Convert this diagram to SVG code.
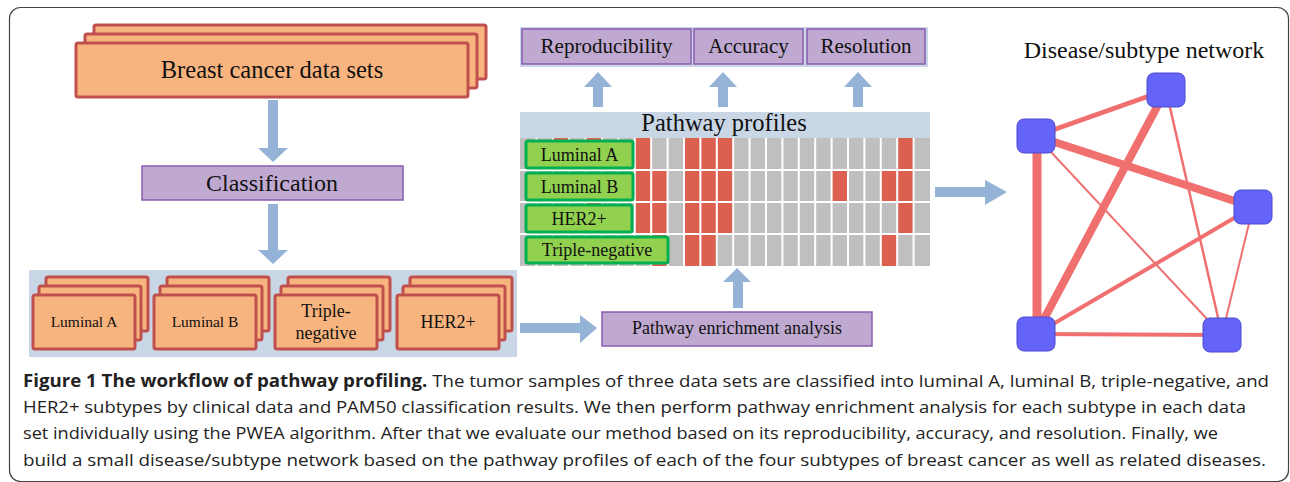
<svg xmlns="http://www.w3.org/2000/svg" width="1290" height="482" viewBox="0 0 1290 482">
<style>
.serif{font-family:"Liberation Serif","Times New Roman",serif;fill:#111;}
.stack{fill:#F8B47E;stroke:#C0504D;stroke-width:3;}
.purple{fill:#BFA9D0;stroke:#8A5CB0;stroke-width:1.5;}
.band{fill:#C9D6E6;}
.arrow{fill:#95B3D7;}
.green{fill:#92D050;stroke:#00B050;stroke-width:3;}
.gray{fill:#BFBFBF;}
.red{fill:#DB6050;}
.sep{stroke:#FFFFFF;stroke-width:2;fill:none;}
.edge{stroke:#F07070;fill:none;stroke-linecap:butt;}
.node{fill:#6464FA;stroke:#4A4ACC;stroke-width:1;}
.cap{font-family:"Open Sans","Liberation Sans",sans-serif;font-size:17px;fill:#222;}
</style>
<rect x="0" y="0" width="1290" height="482" fill="#FFFFFF"/>
<rect x="9.5" y="7.5" width="1279" height="474" rx="11" fill="none" stroke="#444" stroke-width="1.2"/>

<g id="breast-cancer-data-sets">
<rect class="stack" x="94" y="25" width="392" height="54" rx="2"/>
<rect class="stack" x="85" y="34" width="392" height="54" rx="2"/>
<rect class="stack" x="76" y="43" width="392" height="54" rx="2"/>
<text class="serif" x="272" y="78" font-size="24.5" text-anchor="middle">Breast cancer data sets</text>
</g>

<g id="classification">
<rect class="purple" x="142" y="166" width="261" height="34"/>
<text class="serif" x="272" y="191" font-size="24" text-anchor="middle">Classification</text>
</g>

<g id="subtypes">
<rect class="band" x="29" y="270" width="488" height="87"/>
<g id="subtype-luminal-a">
<rect class="stack" x="46" y="277" width="102" height="54" rx="2"/>
<rect class="stack" x="39" y="286" width="102" height="54" rx="2"/>
<rect class="stack" x="33" y="295" width="102" height="54" rx="2"/>
<text class="serif" x="84" y="327" font-size="15.5" text-anchor="middle">Luminal A</text>
</g>
<g id="subtype-luminal-b">
<rect class="stack" x="167" y="277" width="102" height="54" rx="2"/>
<rect class="stack" x="160" y="286" width="102" height="54" rx="2"/>
<rect class="stack" x="154" y="295" width="102" height="54" rx="2"/>
<text class="serif" x="205" y="327" font-size="15.5" text-anchor="middle">Luminal B</text>
</g>
<g id="subtype-triple-negative">
<rect class="stack" x="288" y="277" width="102" height="54" rx="2"/>
<rect class="stack" x="281" y="286" width="102" height="54" rx="2"/>
<rect class="stack" x="275" y="295" width="102" height="54" rx="2"/>
<text class="serif" x="326" y="317" font-size="18" text-anchor="middle">Triple-</text>
<text class="serif" x="326" y="339" font-size="18" text-anchor="middle">negative</text>
</g>
<g id="subtype-her2">
<rect class="stack" x="410" y="277" width="102" height="54" rx="2"/>
<rect class="stack" x="403" y="286" width="102" height="54" rx="2"/>
<rect class="stack" x="397" y="295" width="102" height="54" rx="2"/>
<text class="serif" x="448" y="328" font-size="18" text-anchor="middle">HER2+</text>
</g>
</g>

<g id="pathway-enrichment-analysis">
<rect class="purple" x="602" y="312" width="270" height="34"/>
<text class="serif" x="737" y="334" font-size="18" text-anchor="middle">Pathway enrichment analysis</text>
</g>

<g id="metrics">
<rect class="band" x="520" y="27" width="408" height="40"/>
<g id="reproducibility">
<rect class="purple" x="522" y="29" width="169" height="35"/>
<text class="serif" x="606.5" y="53" font-size="21" text-anchor="middle">Reproducibility</text>
</g>
<g id="accuracy">
<rect class="purple" x="694" y="29" width="109" height="35"/>
<text class="serif" x="748.5" y="53" font-size="21" text-anchor="middle">Accuracy</text>
</g>
<g id="resolution">
<rect class="purple" x="807" y="29" width="118" height="35"/>
<text class="serif" x="866" y="53" font-size="21" text-anchor="middle">Resolution</text>
</g>
</g>

<g id="pathway-profiles">
<rect class="band" x="520" y="112" width="410" height="26"/>
<text class="serif" x="724" y="131" font-size="24.5" text-anchor="middle">Pathway profiles</text>
<rect class="gray" x="520" y="138" width="410" height="128"/>
<g id="red-cells">
<rect class="red" x="552.8" y="138" width="16.4" height="32"/>
<rect class="red" x="585.6" y="138" width="16.4" height="32"/>
<rect class="red" x="634.8" y="138" width="16.4" height="32"/>
<rect class="red" x="684" y="138" width="49.2" height="32"/>
<rect class="red" x="897.2" y="138" width="16.4" height="32"/>
<rect class="red" x="634.8" y="170" width="32.8" height="32"/>
<rect class="red" x="684" y="170" width="49.2" height="32"/>
<rect class="red" x="831.6" y="170" width="16.4" height="32"/>
<rect class="red" x="880.8" y="170" width="32.8" height="32"/>
<rect class="red" x="585.6" y="202" width="16.4" height="32"/>
<rect class="red" x="634.8" y="202" width="32.8" height="32"/>
<rect class="red" x="684" y="202" width="49.2" height="32"/>
<rect class="red" x="897.2" y="202" width="16.4" height="32"/>
<rect class="red" x="651.2" y="234" width="16.4" height="32"/>
<rect class="red" x="684" y="234" width="32.8" height="32"/>
<rect class="red" x="880.8" y="234" width="16.4" height="32"/>
</g>
<path class="sep" d="M536.4 138V266M552.8 138V266M569.2 138V266M585.6 138V266M602 138V266M618.4 138V266M634.8 138V266M651.2 138V266M667.6 138V266M684 138V266M700.4 138V266M716.8 138V266M733.2 138V266M749.6 138V266M766 138V266M782.4 138V266M798.8 138V266M815.2 138V266M831.6 138V266M848 138V266M864.4 138V266M880.8 138V266M897.2 138V266M913.6 138V266M520 170H930M520 202H930M520 234H930"/>
<g id="label-luminal-a">
<rect class="green" x="526" y="141" width="107" height="27" rx="2"/>
<text class="serif" x="579.5" y="161" font-size="18" text-anchor="middle">Luminal A</text>
</g>
<g id="label-luminal-b">
<rect class="green" x="526" y="173" width="107" height="27" rx="2"/>
<text class="serif" x="579.5" y="193" font-size="18" text-anchor="middle">Luminal B</text>
</g>
<g id="label-her2">
<rect class="green" x="526" y="205" width="106" height="27" rx="2"/>
<text class="serif" x="579" y="225" font-size="18" text-anchor="middle">HER2+</text>
</g>
<g id="label-triple-negative">
<rect class="green" x="526" y="237" width="142" height="26" rx="2"/>
<text class="serif" x="597" y="256" font-size="18" text-anchor="middle">Triple-negative</text>
</g>
</g>

<g id="connectors">
<polygon class="arrow" points="268,100 278,100 278,148 288,148 273,162 258,148 268,148"/>
<polygon class="arrow" points="268,204 278,204 278,250 288,250 273,264 258,250 268,250"/>
<polygon class="arrow" points="520,323 580,323 580,315 597,328 580,343 580,333 520,333"/>
<polygon class="arrow" points="733,308 743,308 743,282 751,282 737,268 723,282 733,282"/>
<polygon class="arrow" points="593,107 603,107 603,87 612,87 598,72 584,87 593,87"/>
<polygon class="arrow" points="718,107 728,107 728,87 737,87 723,72 709,87 718,87"/>
<polygon class="arrow" points="853,107 863,107 863,87 872,87 858,72 844,87 853,87"/>
<polygon class="arrow" points="935,187 985,187 985,180 1007,192 985,205 985,197 935,197"/>
</g>

<g id="network">
<text class="serif" x="1144" y="58" font-size="24" text-anchor="middle">Disease/subtype network</text>
<g id="network-edges">
<line class="edge" x1="1036" y1="136" x2="1166" y2="90" stroke-width="5"/>
<line class="edge" x1="1036" y1="136" x2="1253" y2="207" stroke-width="8"/>
<line class="edge" x1="1037" y1="136" x2="1037" y2="334" stroke-width="9"/>
<line class="edge" x1="1036" y1="334" x2="1166" y2="90" stroke-width="8"/>
<line class="edge" x1="1036" y1="136" x2="1222" y2="335" stroke-width="2"/>
<line class="edge" x1="1166" y1="90" x2="1222" y2="335" stroke-width="2.5"/>
<line class="edge" x1="1036" y1="334" x2="1253" y2="207" stroke-width="4"/>
<line class="edge" x1="1253" y1="207" x2="1222" y2="335" stroke-width="2"/>
<line class="edge" x1="1036" y1="334" x2="1222" y2="335" stroke-width="4"/>
</g>
<g id="net-node-1"><rect class="node" x="1147" y="73" width="38" height="34" rx="7"/></g>
<g id="net-node-2"><rect class="node" x="1017" y="119" width="38" height="34" rx="7"/></g>
<g id="net-node-3"><rect class="node" x="1234" y="190" width="38" height="34" rx="7"/></g>
<g id="net-node-4"><rect class="node" x="1017" y="317" width="38" height="34" rx="7"/></g>
<g id="net-node-5"><rect class="node" x="1203" y="318" width="38" height="34" rx="7"/></g>
</g>

<g id="caption">
<text class="cap" x="23" y="387" textLength="1246" lengthAdjust="spacingAndGlyphs"><tspan font-weight="bold">Figure 1 The workflow of pathway profiling.</tspan> The tumor samples of three data sets are classified into luminal A, luminal B, triple-negative, and</text>
<text class="cap" x="23" y="413" textLength="1223" lengthAdjust="spacingAndGlyphs">HER2+ subtypes by clinical data and PAM50 classification results. We then perform pathway enrichment analysis for each subtype in each data</text>
<text class="cap" x="23" y="439" textLength="1195" lengthAdjust="spacingAndGlyphs">set individually using the PWEA algorithm. After that we evaluate our method based on its reproducibility, accuracy, and resolution. Finally, we</text>
<text class="cap" x="23" y="466" textLength="1243" lengthAdjust="spacingAndGlyphs">build a small disease/subtype network based on the pathway profiles of each of the four subtypes of breast cancer as well as related diseases.</text>
</g>
</svg>
